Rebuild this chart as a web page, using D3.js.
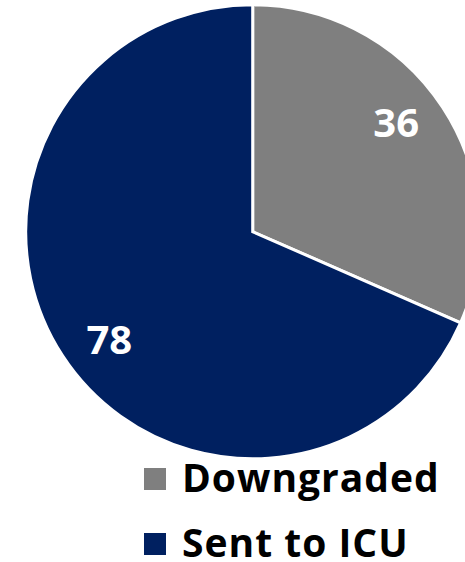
<!DOCTYPE html>
<html>
<head>
<meta charset="utf-8">
<script src="https://cdn.jsdelivr.net/npm/d3@7"></script>
<style>
  html, body { margin: 0; padding: 0; background: #ffffff; }
  svg { display: block; }
</style>
</head>
<body>
<svg id="chart" width="465" height="562"></svg>
<script>
// Patient outcomes
const categories = ["Downgraded", "Sent to ICU"];
const counts = [36, 78];
const colors = ["#7f7f7f", "#002060"];

const width = 465, height = 562;
const cx = 252.7, cy = 231.7, radius = 227;

const svg = d3.select("#chart");

const pie = d3.pie().sort(null).value(d => d.value);
const arcs = pie(categories.map((c, i) => ({ name: c, value: counts[i], color: colors[i] })));

const arc = d3.arc().innerRadius(0).outerRadius(radius);
const labelShift = -0.07; // nudge labels slightly counter-clockwise
const labelArc = d3.arc().innerRadius(180).outerRadius(180);

const g = svg.append("g").attr("transform", `translate(${cx},${cy})`);

g.selectAll("path.slice")
  .data(arcs)
  .join("path")
  .attr("class", "slice")
  .attr("d", arc)
  .attr("fill", d => d.data.color)
  .attr("stroke", "#ffffff")
  .attr("stroke-width", 3)
  .attr("stroke-linejoin", "miter");

g.selectAll("text.value")
  .data(arcs)
  .join("text")
  .attr("class", "value")
  .attr("transform", d => {
    const p = labelArc.centroid({ startAngle: d.startAngle + labelShift, endAngle: d.endAngle + labelShift });
    return `translate(${p[0]},${p[1]})`;
  })
  .attr("dy", "0.35em")
  .attr("text-anchor", "middle")
  .attr("font-family", "'Open Sans', sans-serif")
  .attr("font-weight", 700)
  .attr("font-size", 40)
  .attr("fill", "#ffffff")
  .text(d => d.data.value);

// Legend
const legend = svg.append("g").attr("transform", "translate(144,468)");
const rowGap = 65;
const item = legend.selectAll("g.item")
  .data(categories)
  .join("g")
  .attr("class", "item")
  .attr("transform", (d, i) => `translate(0,${i * rowGap})`);

item.append("rect")
  .attr("width", 22)
  .attr("height", 22)
  .attr("fill", (d, i) => colors[i]);

item.append("text")
  .attr("x", 38)
  .attr("y", 24)
  .attr("font-family", "'Open Sans', sans-serif")
  .attr("font-weight", 700)
  .attr("font-size", 39)
  .attr("letter-spacing", 1)
  .attr("fill", "#000000")
  .text(d => d);
</script>
</body>
</html>
